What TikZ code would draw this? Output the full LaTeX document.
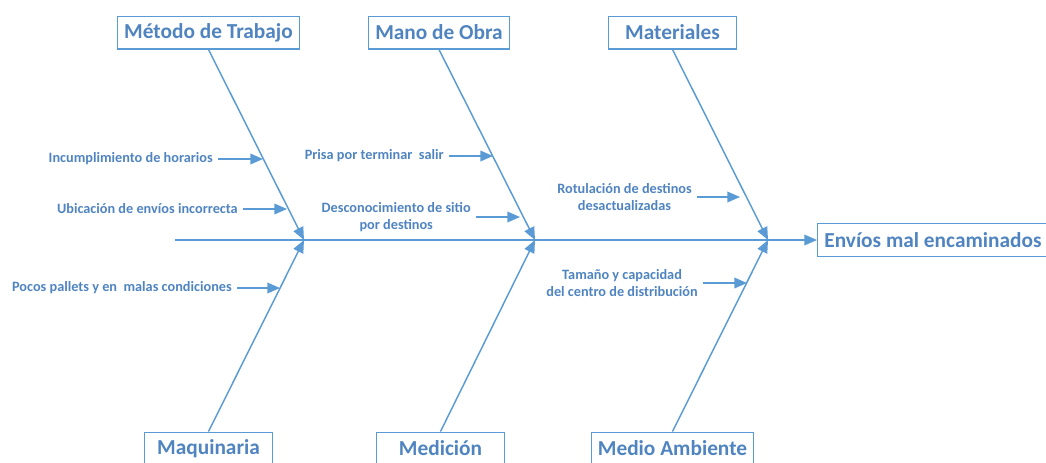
\documentclass[tikz,border=0pt]{standalone}
\usepackage{fontspec}
\setmainfont{Carlito}
\usetikzlibrary{arrows.meta}
\definecolor{linea}{HTML}{5B9BD5}
\definecolor{texto}{HTML}{4F84C0}

\begin{document}
\begin{tikzpicture}[x=0.75pt,y=-0.75pt,
	box/.style={draw=linea, line width=1pt, text=texto, font=\fontsize{16}{19}\selectfont\bfseries,
		minimum width=96pt, minimum height=24.5pt, inner xsep=5pt, inner ysep=2pt},
	cause/.style={text=texto, font=\fontsize{10.7}{13}\selectfont\bfseries, align=center,
		anchor=east, inner xsep=3.75pt, inner ysep=1pt},
	bone/.style={color=linea, line width=1.1pt, -{Triangle[length=9.5pt,width=8pt]}}]
	\useasboundingbox (0,0) rectangle (1046,462);

		% cabezas
		\node[box] (metodo) at (208.5,32.5) {Método de Trabajo};
		\node[box] (mano) at (439,32.5) {Mano de Obra};
		\node[box] (mat) at (672.5,32.5) {Materiales};
		\node[box] (maq) at (208.5,448.5) {Maquinaria};
		\node[box] (med) at (440.5,448.5) {Medición};
		\node[box] (amb) at (672.5,448.5) {Medio Ambiente};
		\node[box, anchor=west] (efecto) at (817,240) {Envíos mal encaminados};

		% espina
		\coordinate (cola) at (175,240);
		\coordinate (j1) at (304,240);
		\coordinate (j2) at (535,240);
		\coordinate (j3) at (768,240);

		\draw[bone] (cola) -- (efecto.west);
		\draw[bone] (metodo.south) -- (j1);
		\draw[bone] (maq.north) -- (j1);
		\draw[bone] (mano.south) -- (j2);
		\draw[bone] (med.north) -- (j2);
		\draw[bone] (mat.south) -- (j3);
		\draw[bone] (amb.north) -- (j3);

		% causas
		\node[cause] (c1) at (218,159) {Incumplimiento de horarios};
		\node[cause] (c2) at (243,209) {Ubicación de envíos incorrecta};
		\node[cause] (c3) at (237,288) {Pocos pallets y en \ malas condiciones};
		\node[cause] (c4) at (449,156) {Prisa por terminar \ salir};
		\node[cause] (c5) at (476,217) {Desconocimiento de sitio\\por destinos};
		\node[cause] (c6) at (697,197) {Rotulación de destinos\\desactualizadas};
		\node[cause] (c7) at (703,283) {Tamaño y capacidad\\del centro de distribución};

		\coordinate (p1) at (263,159);
		\coordinate (p2) at (287,209);
		\coordinate (p3) at (280,288);
		\coordinate (p4) at (493,156);
		\coordinate (p5) at (520,217);
		\coordinate (p6) at (740,197);
		\coordinate (p7) at (747,283);

		\draw[bone] (c1) -- (p1);
		\draw[bone] (c2) -- (p2);
		\draw[bone] (c3) -- (p3);
		\draw[bone] (c4) -- (p4);
		\draw[bone] (c5) -- (p5);
		\draw[bone] (c6) -- (p6);
		\draw[bone] (c7) -- (p7);

	\end{tikzpicture}
\end{document}
